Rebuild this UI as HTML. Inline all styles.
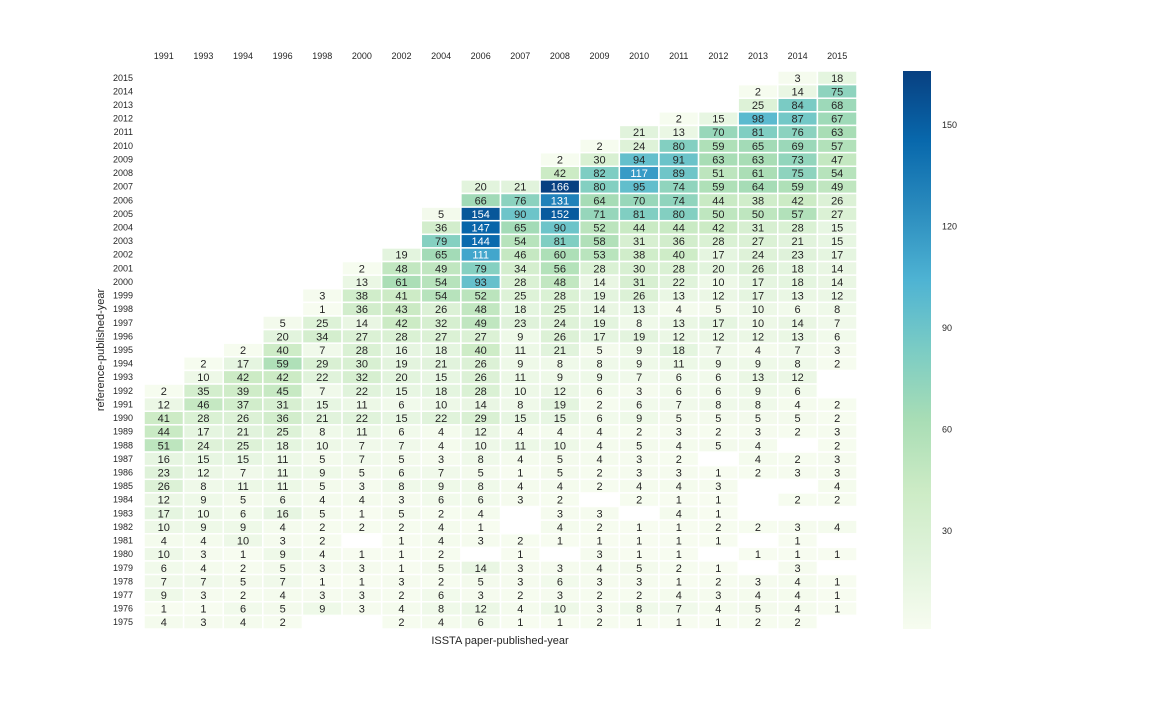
<!DOCTYPE html>
<html><head><meta charset="utf-8"><style>
body{margin:0;background:#fff;}
svg{display:block;font-family:"Liberation Sans",sans-serif;}
</style></head><body>
<svg id="chart" width="1152" height="720" viewBox="0 0 1152 720"></svg>
<script>
const cols=[1991,1993,1994,1996,1998,2000,2002,2004,2006,2007,2008,2009,2010,2011,2012,2013,2014,2015];
const rows=[2015,2014,2013,2012,2011,2010,2009,2008,2007,2006,2005,2004,2003,2002,2001,2000,1999,1998,1997,1996,1995,1994,1993,1992,1991,1990,1989,1988,1987,1986,1985,1984,1983,1982,1981,1980,1979,1978,1977,1976,1975];
const _=null;
const values=[
[_,_,_,_,_,_,_,_,_,_,_,_,_,_,_,_,3,18],
[_,_,_,_,_,_,_,_,_,_,_,_,_,_,_,2,14,75],
[_,_,_,_,_,_,_,_,_,_,_,_,_,_,_,25,84,68],
[_,_,_,_,_,_,_,_,_,_,_,_,_,2,15,98,87,67],
[_,_,_,_,_,_,_,_,_,_,_,_,21,13,70,81,76,63],
[_,_,_,_,_,_,_,_,_,_,_,2,24,80,59,65,69,57],
[_,_,_,_,_,_,_,_,_,_,2,30,94,91,63,63,73,47],
[_,_,_,_,_,_,_,_,_,_,42,82,117,89,51,61,75,54],
[_,_,_,_,_,_,_,_,20,21,166,80,95,74,59,64,59,49],
[_,_,_,_,_,_,_,_,66,76,131,64,70,74,44,38,42,26],
[_,_,_,_,_,_,_,5,154,90,152,71,81,80,50,50,57,27],
[_,_,_,_,_,_,_,36,147,65,90,52,44,44,42,31,28,15],
[_,_,_,_,_,_,_,79,144,54,81,58,31,36,28,27,21,15],
[_,_,_,_,_,_,19,65,111,46,60,53,38,40,17,24,23,17],
[_,_,_,_,_,2,48,49,79,34,56,28,30,28,20,26,18,14],
[_,_,_,_,_,13,61,54,93,28,48,14,31,22,10,17,18,14],
[_,_,_,_,3,38,41,54,52,25,28,19,26,13,12,17,13,12],
[_,_,_,_,1,36,43,26,48,18,25,14,13,4,5,10,6,8],
[_,_,_,5,25,14,42,32,49,23,24,19,8,13,17,10,14,7],
[_,_,_,20,34,27,28,27,27,9,26,17,19,12,12,12,13,6],
[_,_,2,40,7,28,16,18,40,11,21,5,9,18,7,4,7,3],
[_,2,17,59,29,30,19,21,26,9,8,8,9,11,9,9,8,2],
[_,10,42,42,22,32,20,15,26,11,9,9,7,6,6,13,12,_],
[2,35,39,45,7,22,15,18,28,10,12,6,3,6,6,9,6,_],
[12,46,37,31,15,11,6,10,14,8,19,2,6,7,8,8,4,2],
[41,28,26,36,21,22,15,22,29,15,15,6,9,5,5,5,5,2],
[44,17,21,25,8,11,6,4,12,4,4,4,2,3,2,3,2,3],
[51,24,25,18,10,7,7,4,10,11,10,4,5,4,5,4,_,2],
[16,15,15,11,5,7,5,3,8,4,5,4,3,2,_,4,2,3],
[23,12,7,11,9,5,6,7,5,1,5,2,3,3,1,2,3,3],
[26,8,11,11,5,3,8,9,8,4,4,2,4,4,3,_,_,4],
[12,9,5,6,4,4,3,6,6,3,2,_,2,1,1,_,2,2],
[17,10,6,16,5,1,5,2,4,_,3,3,_,4,1,_,_,_],
[10,9,9,4,2,2,2,4,1,_,4,2,1,1,2,2,3,4],
[4,4,10,3,2,_,1,4,3,2,1,1,1,1,1,_,1,_],
[10,3,1,9,4,1,1,2,_,1,_,3,1,1,_,1,1,1],
[6,4,2,5,3,3,1,5,14,3,3,4,5,2,1,_,3,_],
[7,7,5,7,1,1,3,2,5,3,6,3,3,1,2,3,4,1],
[9,3,2,4,3,3,2,6,3,2,3,2,2,4,3,4,4,1],
[1,1,6,5,9,3,4,8,12,4,10,3,8,7,4,5,4,1],
[4,3,4,2,_,_,2,4,6,1,1,2,1,1,1,2,2,_]
];
const cbTicks=[30,60,90,120,150];
const vmin=1,vmax=166;
const stops=["#f7fcf0","#e0f3db","#ccebc5","#a8ddb5","#7bccc4","#4eb3d3","#2b8cbe","#0868ac","#084081"];

const NS="http://www.w3.org/2000/svg";
const svg=document.getElementById('chart');
const X0=144,X1=857,Y0=71,Y1=629;
const cw=(X1-X0)/cols.length, ch=(Y1-Y0)/rows.length;
function xAt(i){return X0+i*cw;}
function yAt(j){return Y0+j*ch;}
function hex(h){return [1,3,5].map(k=>parseInt(h.substr(k,2),16));}
function color(v){
  let t=(v-vmin)/(vmax-vmin); t=Math.max(0,Math.min(1,t));
  const p=t*(stops.length-1), i=Math.min(Math.floor(p),stops.length-2), f=p-i;
  const a=hex(stops[i]),b=hex(stops[i+1]);
  return 'rgb('+a.map((c,k)=>Math.round(c+(b[k]-c)*f)).join(',')+')';
}
function el(tag,attrs,parent){const e=document.createElementNS(NS,tag);for(const k in attrs)e.setAttribute(k,attrs[k]);(parent||svg).appendChild(e);return e;}
const grid=el('g',{});


rows.forEach((r,j)=>{
  cols.forEach((c,i)=>{
    const v=values[j][i];
    if(v===null||v===undefined)return;
    const rc=el('rect',{x:xAt(i),y:yAt(j),width:cw,height:ch,fill:color(v),stroke:'#fff','stroke-width':1.5},grid);
    
    
    const t=el('text',{x:xAt(i)+cw/2,y:yAt(j)+ch/2+4,'text-anchor':'middle','font-size':11,fill:v>105?'#fff':'#262626'},grid);
    
    
    t.textContent=v;
  });
});
cols.forEach((c,i)=>{
  const t=el('text',{x:xAt(i)+cw/2,y:59,'text-anchor':'middle','font-size':9,fill:'#262626'});
  
  
  t.textContent=c;
});
rows.forEach((r,j)=>{
  const t=el('text',{x:133,y:yAt(j)+ch/2+3,'text-anchor':'end','font-size':9,fill:'#262626'});
  
  
  t.textContent=r;
});
const xt=el('text',{x:500,y:644,'text-anchor':'middle','font-size':11,fill:'#262626'});


xt.textContent='ISSTA paper-published-year';
const yt=el('text',{x:0,y:0,transform:'translate(104,350) rotate(-90)','text-anchor':'middle','font-size':11,fill:'#262626'});


yt.textContent='reference-published-year';
const CB0=71,CB1=629,cbx=903,cbw=28;
const defs=el('defs',{});
const lg=el('linearGradient',{id:'cbg',x1:0,y1:1,x2:0,y2:0},defs);
stops.forEach((s,i)=>el('stop',{offset:i/(stops.length-1),'stop-color':s},lg));
const cb=el('rect',{x:cbx,y:CB0,width:cbw,height:CB1-CB0,fill:'url(#cbg)'});


function cbY(v){return CB1-(v-vmin)/(vmax-vmin)*(CB1-CB0);}
cbTicks.forEach(v=>{
  const t=el('text',{x:942,y:cbY(v)+3,'font-size':9,fill:'#262626'});
  
  
  t.textContent=v;
});
</script>
</body></html>
